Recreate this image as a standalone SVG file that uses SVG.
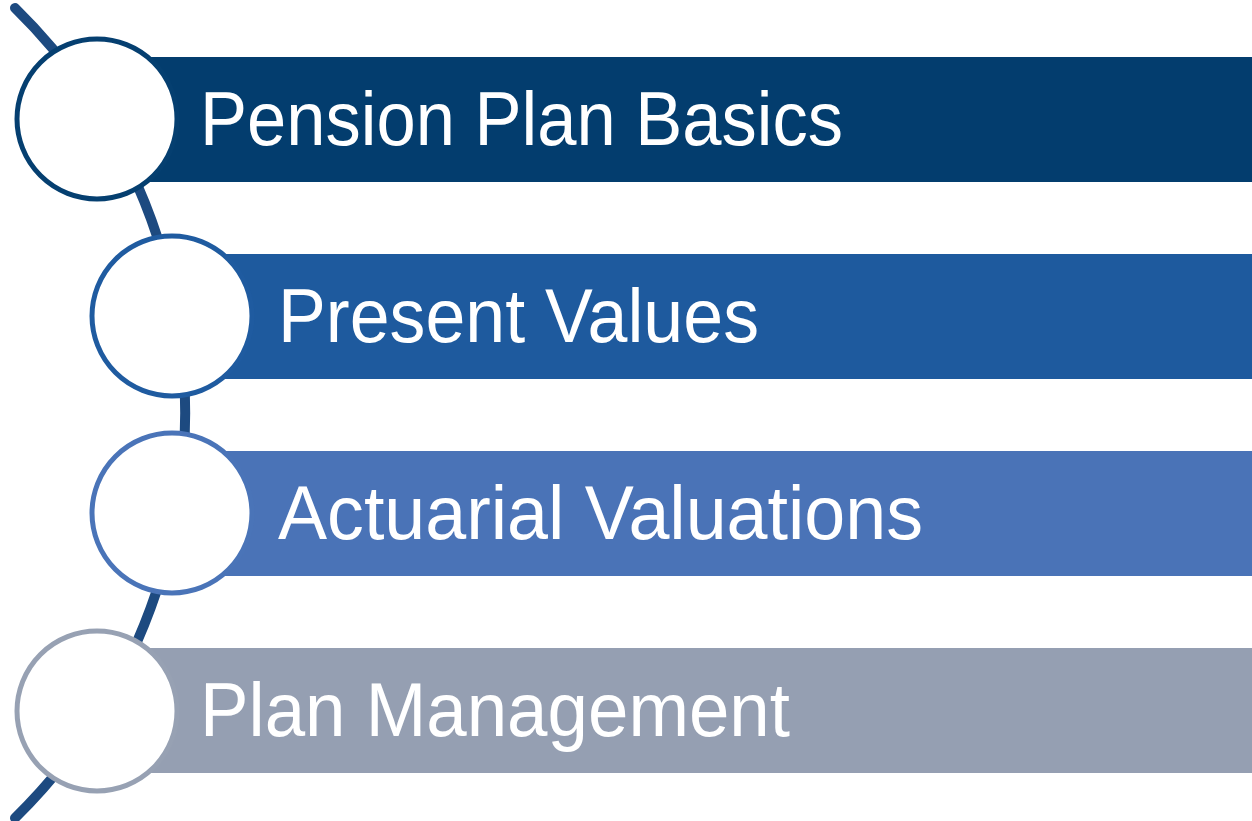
<svg xmlns="http://www.w3.org/2000/svg" width="1252" height="821" viewBox="0 0 1252 821">
<style>
.lbl{font-family:"Liberation Sans",Arial,sans-serif;font-size:76px;fill:#ffffff;}
.node-circle{fill:#ffffff;stroke-width:5;}
.conn{fill:none;stroke:#1D4A80;stroke-width:10;stroke-linecap:round;}
</style>
<rect width="1252" height="821" fill="#ffffff"/>
<g id="connectors">
<path class="conn" d="M 15 8 A 567 567 0 0 1 15 818"/>
</g>
<g id="node1">
<rect x="150" y="57" width="1102" height="125" fill="#033D6E"/>
<circle class="node-circle" cx="97" cy="119" r="80" stroke="#053F70"/>
<text class="lbl" x="200" y="145" textLength="643" lengthAdjust="spacingAndGlyphs">Pension Plan Basics</text>
</g>
<g id="node2">
<rect x="225" y="254" width="1027" height="125" fill="#1E5A9E"/>
<circle class="node-circle" cx="172" cy="316" r="80" stroke="#1F5BA0"/>
<text class="lbl" x="278" y="342" textLength="481" lengthAdjust="spacingAndGlyphs">Present Values</text>
</g>
<g id="node3">
<rect x="225" y="451" width="1027" height="125" fill="#4A73B7"/>
<circle class="node-circle" cx="172" cy="513" r="80" stroke="#4A74B8"/>
<text class="lbl" x="278" y="539" textLength="645" lengthAdjust="spacingAndGlyphs">Actuarial Valuations</text>
</g>
<g id="node4">
<rect x="150" y="648" width="1102" height="125" fill="#959FB2"/>
<circle class="node-circle" cx="97" cy="711" r="80" stroke="#97A1B3"/>
<text class="lbl" x="200" y="736" textLength="590" lengthAdjust="spacingAndGlyphs">Plan Management</text>
</g>
</svg>
